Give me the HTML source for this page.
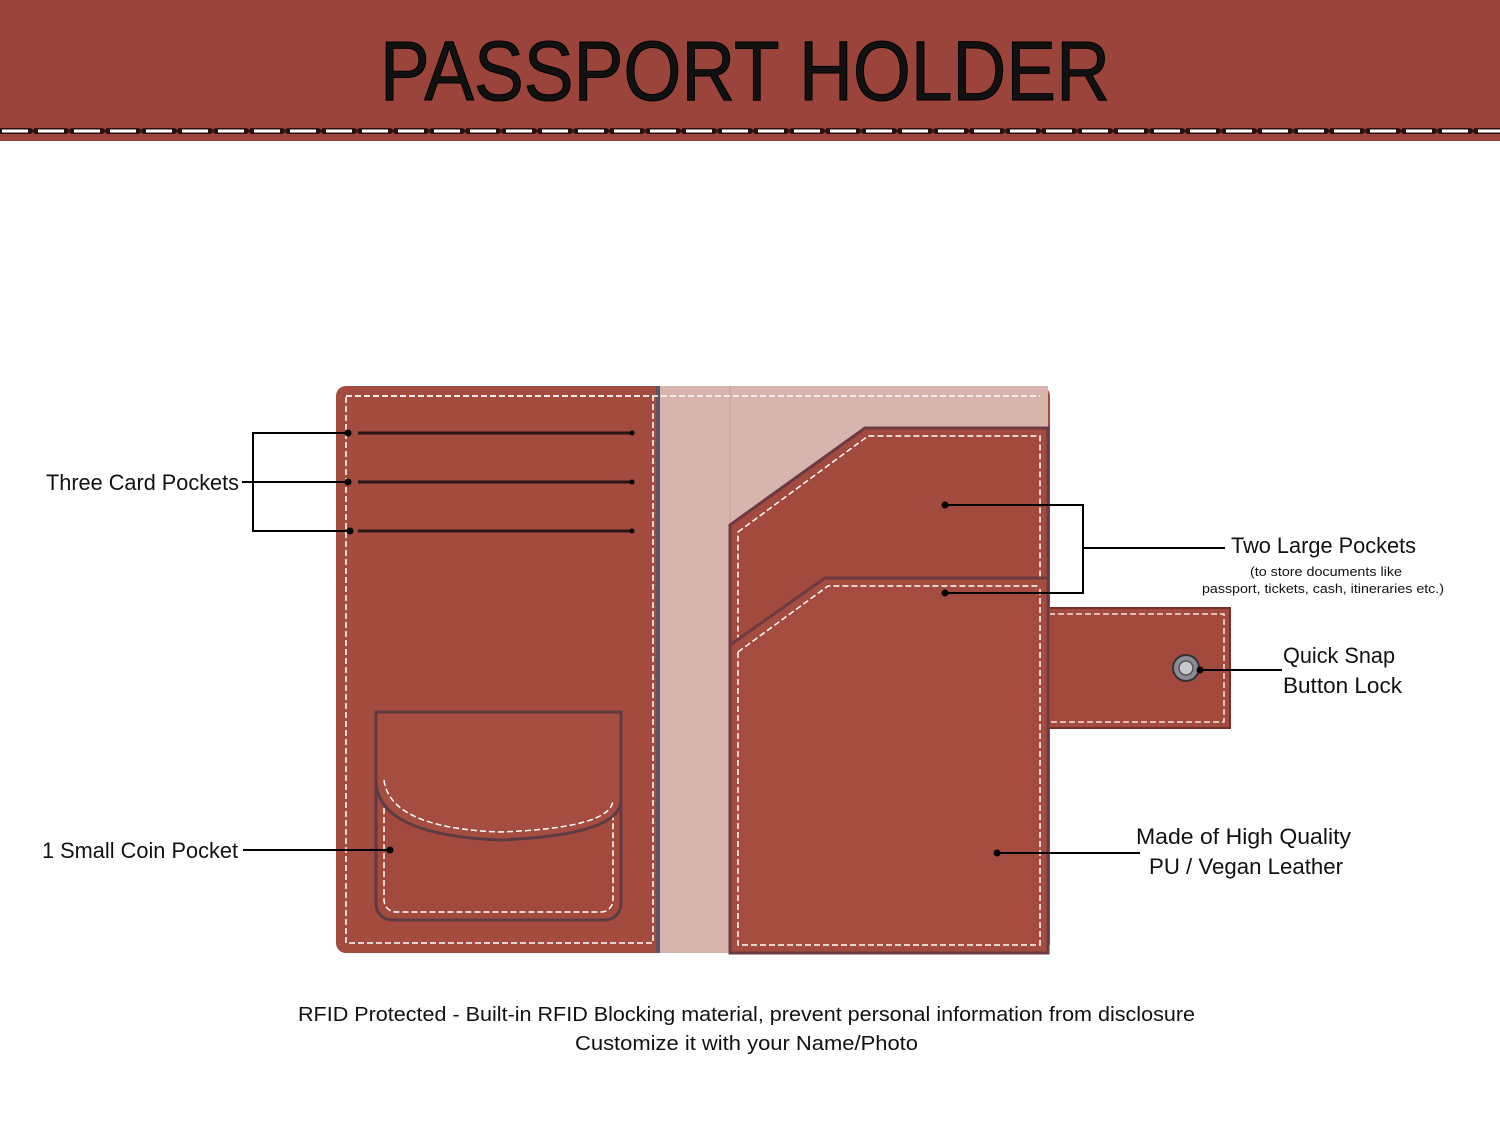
<!DOCTYPE html>
<html><head><meta charset="utf-8"><style>
body{margin:0;width:1500px;height:1125px;background:#fff;overflow:hidden;font-family:"Liberation Sans",sans-serif}
</style></head><body>
<svg width="1500" height="1125" viewBox="0 0 1500 1125" xmlns="http://www.w3.org/2000/svg">
<rect x="0" y="0" width="1500" height="141" fill="#9b443b"/>
<line x1="0" y1="131" x2="1500" y2="131" stroke="#2a1010" stroke-width="6" stroke-dasharray="30 6" stroke-linecap="round"/>
<line x1="0" y1="131" x2="1500" y2="131" stroke="#fff" stroke-width="3" stroke-dasharray="26 10" stroke-dashoffset="-2"/>
<text x="380" y="100" textLength="730" lengthAdjust="spacingAndGlyphs" font-family="Liberation Sans" font-size="84" fill="#111" stroke="#000" stroke-width="1">PASSPORT HOLDER</text>

<rect x="1040" y="608" width="190" height="120" fill="#a24a3e" stroke="#7a2f28" stroke-width="2"/>
<rect x="1040" y="614" width="184" height="108" fill="none" stroke="#f3e3df" stroke-width="1.5" stroke-dasharray="6 3"/>
<circle cx="1186" cy="668" r="13" fill="#8c8a96" stroke="#333" stroke-width="2"/>
<circle cx="1186" cy="668" r="7" fill="#c9c6d0" stroke="#555" stroke-width="1.5"/>

<rect x="336" y="386" width="714" height="567" rx="10" fill="#a44b3f"/>
<rect x="658" y="386" width="390" height="567" fill="#d8b4ae"/>
<line x1="658" y1="386" x2="658" y2="953" stroke="#5b5468" stroke-width="4"/>
<line x1="730" y1="386" x2="730" y2="953" stroke="#bfa09b" stroke-width="1"/>
<line x1="346" y1="396" x2="1040" y2="396" stroke="#fff" stroke-width="1.5" stroke-dasharray="6 3"/>
<rect x="346" y="396" width="307" height="547" fill="none" stroke="#fff" stroke-width="1.5" stroke-dasharray="6 3"/>
<path d="M730 525 L865 428 L1048 428 L1048 953 L730 953 Z" fill="#a24a3e" stroke="#6c3a40" stroke-width="3"/>
<path d="M738 532 L868 436 L1040 436 L1040 945 L738 945 Z" fill="none" stroke="#fff" stroke-width="1.5" stroke-dasharray="6 3"/>
<path d="M730 645 L825 578 L1048 578 L1048 953 L730 953 Z" fill="#a54c40" stroke="#6c3a40" stroke-width="3"/>
<path d="M738 652 L828 586 L1040 586" fill="none" stroke="#fff" stroke-width="1.5" stroke-dasharray="6 3"/>
<path d="M738 652 L738 945 L1040 945 L1040 586" fill="none" stroke="#fff" stroke-width="1.5" stroke-dasharray="6 3"/>
<line x1="358" y1="433" x2="632" y2="433" stroke="#2a1515" stroke-width="3"/>
<line x1="358" y1="482" x2="632" y2="482" stroke="#2a1515" stroke-width="3"/>
<line x1="358" y1="531" x2="632" y2="531" stroke="#2a1515" stroke-width="3"/>
<rect x="376" y="712" width="245" height="208" rx="16" fill="#a34a3e" stroke="#5e3a45" stroke-width="3"/>
<rect x="384" y="720" width="229" height="192" rx="12" fill="none" stroke="#fff" stroke-width="1.5" stroke-dasharray="6 3"/>
<path d="M376 712 L621 712 L621 800 Q621 835 500 840 Q376 835 376 780 Z" fill="#a64d41" stroke="#5e3a45" stroke-width="3"/>
<path d="M384 780 Q390 828 500 832 Q612 828 613 800" fill="none" stroke="#fff" stroke-width="1.5" stroke-dasharray="6 3"/>

<g stroke="#000" stroke-width="2" fill="none">
<path d="M348 433 H253 V531 H348 M253 482 H348 M242 482 H253"/>
<path d="M243 850 H390"/>
<path d="M945 505 H1083 V593 H945 M1083 548 H1225"/>
<path d="M1200 670 H1282"/>
<path d="M997 853 H1140"/>
</g>
<g fill="#000">
<circle cx="348" cy="433" r="3.5"/><circle cx="348" cy="482" r="3.5"/><circle cx="350" cy="531" r="3.5"/>
<circle cx="632" cy="433" r="2.5"/><circle cx="632" cy="482" r="2.5"/><circle cx="632" cy="531" r="2.5"/>
<circle cx="390" cy="850" r="3.5"/><circle cx="945" cy="505" r="3.5"/><circle cx="945" cy="593" r="3.5"/>
<circle cx="1200" cy="670" r="3.5"/><circle cx="997" cy="853" r="3.5"/>
</g>
<g font-family="Liberation Sans" fill="#111" font-size="22">
<text x="46" y="490" textLength="193" lengthAdjust="spacingAndGlyphs">Three Card Pockets</text>
<text x="42" y="858" textLength="196" lengthAdjust="spacingAndGlyphs">1 Small Coin Pocket</text>
<text x="1231" y="553" textLength="185" lengthAdjust="spacingAndGlyphs">Two Large Pockets</text>
<text x="1250" y="576" font-size="13" textLength="152" lengthAdjust="spacingAndGlyphs">(to store documents like</text>
<text x="1202" y="593" font-size="13" textLength="242" lengthAdjust="spacingAndGlyphs">passport, tickets, cash, itineraries etc.)</text>
<text x="1283" y="663" textLength="112" lengthAdjust="spacingAndGlyphs">Quick Snap</text>
<text x="1283" y="693" textLength="119" lengthAdjust="spacingAndGlyphs">Button Lock</text>
<text x="1136" y="844" textLength="215" lengthAdjust="spacingAndGlyphs">Made of High Quality</text>
<text x="1149" y="874" textLength="194" lengthAdjust="spacingAndGlyphs">PU / Vegan Leather</text>
<text x="298" y="1021" font-size="20" textLength="897" lengthAdjust="spacingAndGlyphs">RFID Protected - Built-in RFID Blocking material, prevent personal information from disclosure</text>
<text x="575" y="1050" font-size="20" textLength="343" lengthAdjust="spacingAndGlyphs">Customize it with your Name/Photo</text>
</g>
</svg>
</body></html>
